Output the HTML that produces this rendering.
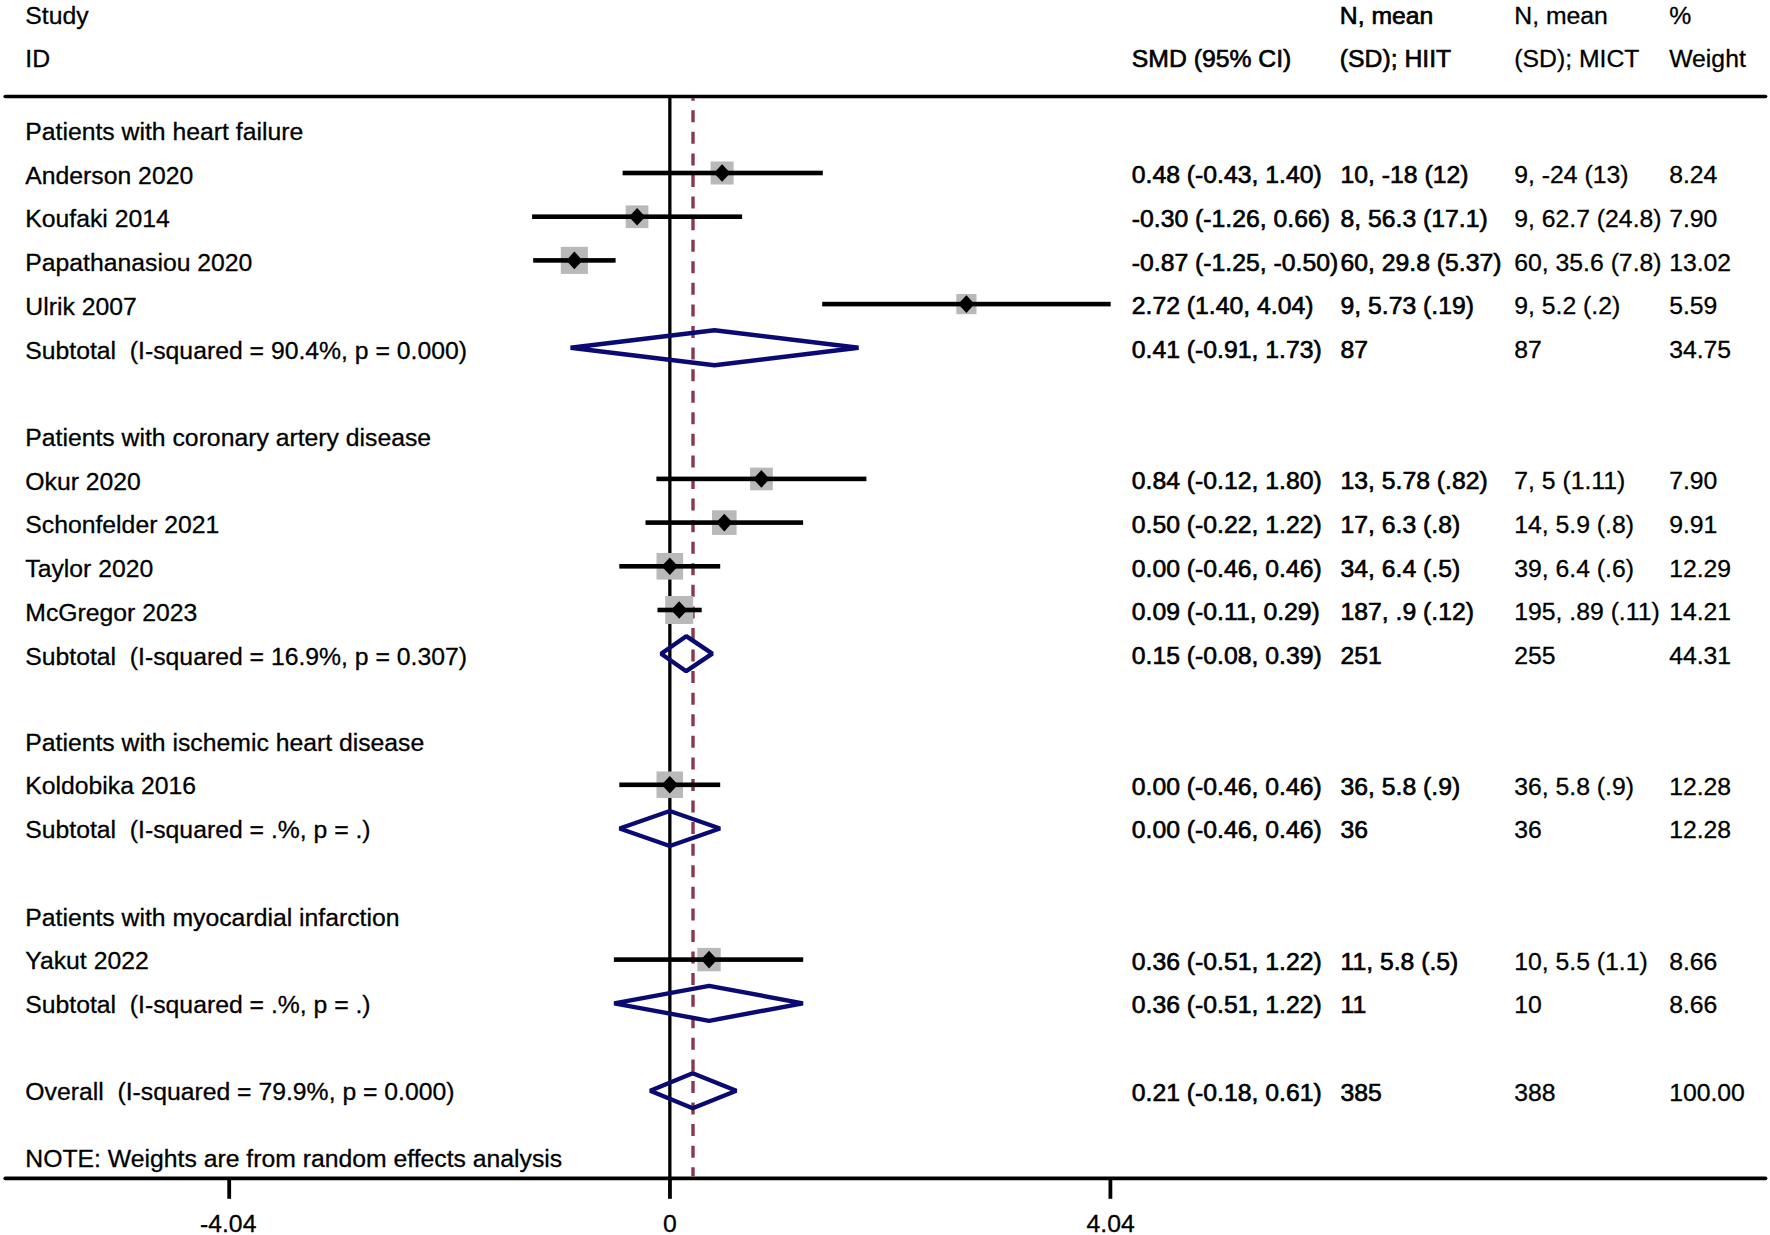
<!DOCTYPE html>
<html><head><meta charset="utf-8"><title>Forest plot</title>
<style>
html,body{margin:0;padding:0;background:#fff;}
svg{display:block;}
.t{font-family:"Liberation Sans",sans-serif;font-size:24.75px;fill:#000;white-space:pre;stroke:#000;stroke-width:0.3px;}
.b{stroke-width:0.65px;}
</style></head><body>
<svg width="1770" height="1235" viewBox="0 0 1770 1235">
<rect width="1770" height="1235" fill="#fff"/>
<line x1="5.2" y1="96.55" x2="1765.6" y2="96.55" stroke="#000" stroke-width="3.6" stroke-linecap="round"/>
<line x1="5.2" y1="1178.4" x2="1765.6" y2="1178.4" stroke="#000" stroke-width="3.6" stroke-linecap="round"/>
<rect x="668.2" y="96" width="3.3" height="1082" fill="#000"/>
<rect x="227.30" y="1178" width="3.8" height="20.8" fill="#000"/>
<rect x="668.05" y="1178" width="3.8" height="20.8" fill="#000"/>
<rect x="1108.50" y="1178" width="3.8" height="20.8" fill="#000"/>
<line x1="693.0" y1="98" x2="693.0" y2="1176.4" stroke="#8a384b" stroke-width="3.4" stroke-dasharray="12.0 9.57" stroke-dashoffset="9.27"/>
<rect x="710.6" y="161.5" width="23.0" height="23.0" fill="#b9b9b9"/>
<rect x="622.6" y="170.7" width="200.2" height="4.6" fill="#000"/>
<path d="M713.9 173.0L722.1 164.2L730.3 173.0L722.1 181.8Z" fill="#000"/>
<rect x="625.7" y="205.4" width="22.7" height="22.7" fill="#b9b9b9"/>
<rect x="532.1" y="214.4" width="210.0" height="4.6" fill="#000"/>
<path d="M628.9 216.7L637.1 207.9L645.3 216.7L637.1 225.5Z" fill="#000"/>
<rect x="560.8" y="246.8" width="27.1" height="27.1" fill="#b9b9b9"/>
<rect x="533.2" y="258.1" width="82.4" height="4.6" fill="#000"/>
<path d="M566.2 260.4L574.4 251.6L582.6 260.4L574.4 269.2Z" fill="#000"/>
<rect x="956.3" y="294.0" width="20.2" height="20.2" fill="#b9b9b9"/>
<rect x="822.2" y="301.8" width="288.5" height="4.6" fill="#000"/>
<path d="M958.2 304.1L966.4 295.3L974.6 304.1L966.4 312.9Z" fill="#000"/>
<path d="M570.6 347.8L714.5 330.3L858.5 347.8L714.5 365.3Z" fill="none" stroke="#0a0a73" stroke-width="4.4" stroke-linejoin="bevel"/>
<rect x="750.1" y="467.6" width="22.7" height="22.7" fill="#b9b9b9"/>
<rect x="656.4" y="476.6" width="210.0" height="4.6" fill="#000"/>
<path d="M753.2 478.9L761.4 470.1L769.6 478.9L761.4 487.7Z" fill="#000"/>
<rect x="712.0" y="510.3" width="24.6" height="24.6" fill="#b9b9b9"/>
<rect x="645.5" y="520.3" width="157.6" height="4.6" fill="#000"/>
<path d="M716.1 522.6L724.3 513.8L732.5 522.6L724.3 531.4Z" fill="#000"/>
<rect x="656.5" y="553.0" width="26.6" height="26.6" fill="#b9b9b9"/>
<rect x="619.3" y="564.0" width="100.9" height="4.6" fill="#000"/>
<path d="M661.6 566.3L669.8 557.5L678.0 566.3L669.8 575.1Z" fill="#000"/>
<rect x="665.2" y="596.0" width="28.0" height="28.0" fill="#b9b9b9"/>
<rect x="657.5" y="607.7" width="44.2" height="4.6" fill="#000"/>
<path d="M671.0 610.0L679.2 601.2L687.4 610.0L679.2 618.8Z" fill="#000"/>
<path d="M661.1 653.7L686.2 636.2L712.3 653.7L686.2 671.2Z" fill="none" stroke="#0a0a73" stroke-width="4.4" stroke-linejoin="bevel"/>
<rect x="656.5" y="771.5" width="26.5" height="26.5" fill="#b9b9b9"/>
<rect x="619.3" y="782.5" width="100.9" height="4.6" fill="#000"/>
<path d="M661.6 784.8L669.8 776.0L678.0 784.8L669.8 793.6Z" fill="#000"/>
<path d="M619.6 828.5L669.8 811.0L720.0 828.5L669.8 846.0Z" fill="none" stroke="#0a0a73" stroke-width="4.4" stroke-linejoin="bevel"/>
<rect x="697.3" y="947.9" width="23.4" height="23.4" fill="#b9b9b9"/>
<rect x="613.9" y="957.3" width="189.3" height="4.6" fill="#000"/>
<path d="M700.9 959.6L709.1 950.8L717.3 959.6L709.1 968.4Z" fill="#000"/>
<path d="M614.2 1003.3L709.1 985.8L802.9 1003.3L709.1 1020.8Z" fill="none" stroke="#0a0a73" stroke-width="4.4" stroke-linejoin="bevel"/>
<path d="M650.2 1090.7L692.7 1073.2L736.3 1090.7L692.7 1108.2Z" fill="none" stroke="#0a0a73" stroke-width="4.4" stroke-linejoin="bevel"/>
<text class="t" xml:space="preserve" x="25.3" y="23.5">Study</text>
<text class="t" xml:space="preserve" x="25.3" y="67.1">ID</text>
<text class="t b" xml:space="preserve" x="1131.8" y="67.1">SMD (95% CI)</text>
<text class="t b" xml:space="preserve" x="1339.8" y="23.5">N, mean</text>
<text class="t b" xml:space="preserve" x="1339.8" y="67.1">(SD); HIIT</text>
<text class="t" xml:space="preserve" x="1514.3" y="23.5">N, mean</text>
<text class="t" xml:space="preserve" x="1514.3" y="67.1">(SD); MICT</text>
<text class="t" xml:space="preserve" x="1669.2" y="23.5">%</text>
<text class="t" xml:space="preserve" x="1669.2" y="67.1">Weight</text>
<text class="t" xml:space="preserve" x="25.3" y="140.1">Patients with heart failure</text>
<text class="t" xml:space="preserve" x="25.3" y="183.8">Anderson 2020</text>
<text class="t b" xml:space="preserve" x="1131.8" y="183.2">0.48 (-0.43, 1.40)</text>
<text class="t b" xml:space="preserve" x="1340.5" y="183.2">10, -18 (12)</text>
<text class="t" xml:space="preserve" x="1514.3" y="183.2">9, -24 (13)</text>
<text class="t" xml:space="preserve" x="1669.2" y="183.2">8.24</text>
<text class="t" xml:space="preserve" x="25.3" y="227.4">Koufaki 2014</text>
<text class="t b" xml:space="preserve" x="1131.8" y="226.9">-0.30 (-1.26, 0.66)</text>
<text class="t b" xml:space="preserve" x="1340.5" y="226.9">8, 56.3 (17.1)</text>
<text class="t" xml:space="preserve" x="1514.3" y="226.9">9, 62.7 (24.8)</text>
<text class="t" xml:space="preserve" x="1669.2" y="226.9">7.90</text>
<text class="t" xml:space="preserve" x="25.3" y="271.1">Papathanasiou 2020</text>
<text class="t b" xml:space="preserve" x="1131.8" y="270.6">-0.87 (-1.25, -0.50)</text>
<text class="t b" xml:space="preserve" x="1340.5" y="270.6">60, 29.8 (5.37)</text>
<text class="t" xml:space="preserve" x="1514.3" y="270.6">60, 35.6 (7.8)</text>
<text class="t" xml:space="preserve" x="1669.2" y="270.6">13.02</text>
<text class="t" xml:space="preserve" x="25.3" y="314.9">Ulrik 2007</text>
<text class="t b" xml:space="preserve" x="1131.8" y="314.4">2.72 (1.40, 4.04)</text>
<text class="t b" xml:space="preserve" x="1340.5" y="314.4">9, 5.73 (.19)</text>
<text class="t" xml:space="preserve" x="1514.3" y="314.4">9, 5.2 (.2)</text>
<text class="t" xml:space="preserve" x="1669.2" y="314.4">5.59</text>
<text class="t" xml:space="preserve" x="25.3" y="358.6">Subtotal  (I-squared = 90.4%, p = 0.000)</text>
<text class="t b" xml:space="preserve" x="1131.8" y="358.1">0.41 (-0.91, 1.73)</text>
<text class="t b" xml:space="preserve" x="1340.5" y="358.1">87</text>
<text class="t" xml:space="preserve" x="1514.3" y="358.1">87</text>
<text class="t" xml:space="preserve" x="1669.2" y="358.1">34.75</text>
<text class="t" xml:space="preserve" x="25.3" y="446.0">Patients with coronary artery disease</text>
<text class="t" xml:space="preserve" x="25.3" y="489.7">Okur 2020</text>
<text class="t b" xml:space="preserve" x="1131.8" y="489.2">0.84 (-0.12, 1.80)</text>
<text class="t b" xml:space="preserve" x="1340.5" y="489.2">13, 5.78 (.82)</text>
<text class="t" xml:space="preserve" x="1514.3" y="489.2">7, 5 (1.11)</text>
<text class="t" xml:space="preserve" x="1669.2" y="489.2">7.90</text>
<text class="t" xml:space="preserve" x="25.3" y="533.4">Schonfelder 2021</text>
<text class="t b" xml:space="preserve" x="1131.8" y="532.9">0.50 (-0.22, 1.22)</text>
<text class="t b" xml:space="preserve" x="1340.5" y="532.9">17, 6.3 (.8)</text>
<text class="t" xml:space="preserve" x="1514.3" y="532.9">14, 5.9 (.8)</text>
<text class="t" xml:space="preserve" x="1669.2" y="532.9">9.91</text>
<text class="t" xml:space="preserve" x="25.3" y="577.0">Taylor 2020</text>
<text class="t b" xml:space="preserve" x="1131.8" y="576.5">0.00 (-0.46, 0.46)</text>
<text class="t b" xml:space="preserve" x="1340.5" y="576.5">34, 6.4 (.5)</text>
<text class="t" xml:space="preserve" x="1514.3" y="576.5">39, 6.4 (.6)</text>
<text class="t" xml:space="preserve" x="1669.2" y="576.5">12.29</text>
<text class="t" xml:space="preserve" x="25.3" y="620.8">McGregor 2023</text>
<text class="t b" xml:space="preserve" x="1131.8" y="620.2">0.09 (-0.11, 0.29)</text>
<text class="t b" xml:space="preserve" x="1340.5" y="620.2">187, .9 (.12)</text>
<text class="t" xml:space="preserve" x="1514.3" y="620.2">195, .89 (.11)</text>
<text class="t" xml:space="preserve" x="1669.2" y="620.2">14.21</text>
<text class="t" xml:space="preserve" x="25.3" y="664.5">Subtotal  (I-squared = 16.9%, p = 0.307)</text>
<text class="t b" xml:space="preserve" x="1131.8" y="664.0">0.15 (-0.08, 0.39)</text>
<text class="t b" xml:space="preserve" x="1340.5" y="664.0">251</text>
<text class="t" xml:space="preserve" x="1514.3" y="664.0">255</text>
<text class="t" xml:space="preserve" x="1669.2" y="664.0">44.31</text>
<text class="t" xml:space="preserve" x="25.3" y="750.7">Patients with ischemic heart disease</text>
<text class="t" xml:space="preserve" x="25.3" y="794.4">Koldobika 2016</text>
<text class="t b" xml:space="preserve" x="1131.8" y="794.7">0.00 (-0.46, 0.46)</text>
<text class="t b" xml:space="preserve" x="1340.5" y="794.7">36, 5.8 (.9)</text>
<text class="t" xml:space="preserve" x="1514.3" y="794.7">36, 5.8 (.9)</text>
<text class="t" xml:space="preserve" x="1669.2" y="794.7">12.28</text>
<text class="t" xml:space="preserve" x="25.3" y="838.1">Subtotal  (I-squared = .%, p = .)</text>
<text class="t b" xml:space="preserve" x="1131.8" y="838.4">0.00 (-0.46, 0.46)</text>
<text class="t b" xml:space="preserve" x="1340.5" y="838.4">36</text>
<text class="t" xml:space="preserve" x="1514.3" y="838.4">36</text>
<text class="t" xml:space="preserve" x="1669.2" y="838.4">12.28</text>
<text class="t" xml:space="preserve" x="25.3" y="925.5">Patients with myocardial infarction</text>
<text class="t" xml:space="preserve" x="25.3" y="969.2">Yakut 2022</text>
<text class="t b" xml:space="preserve" x="1131.8" y="969.5">0.36 (-0.51, 1.22)</text>
<text class="t b" xml:space="preserve" x="1340.5" y="969.5">11, 5.8 (.5)</text>
<text class="t" xml:space="preserve" x="1514.3" y="969.5">10, 5.5 (1.1)</text>
<text class="t" xml:space="preserve" x="1669.2" y="969.5">8.66</text>
<text class="t" xml:space="preserve" x="25.3" y="1012.9">Subtotal  (I-squared = .%, p = .)</text>
<text class="t b" xml:space="preserve" x="1131.8" y="1013.2">0.36 (-0.51, 1.22)</text>
<text class="t b" xml:space="preserve" x="1340.5" y="1013.2">11</text>
<text class="t" xml:space="preserve" x="1514.3" y="1013.2">10</text>
<text class="t" xml:space="preserve" x="1669.2" y="1013.2">8.66</text>
<text class="t" xml:space="preserve" x="25.3" y="1100.3">Overall  (I-squared = 79.9%, p = 0.000)</text>
<text class="t b" xml:space="preserve" x="1131.8" y="1100.6">0.21 (-0.18, 0.61)</text>
<text class="t b" xml:space="preserve" x="1340.5" y="1100.6">385</text>
<text class="t" xml:space="preserve" x="1514.3" y="1100.6">388</text>
<text class="t" xml:space="preserve" x="1669.2" y="1100.6">100.00</text>
<text class="t" xml:space="preserve" x="25.3" y="1166.6">NOTE: Weights are from random effects analysis</text>
<text class="t" xml:space="preserve" x="228.2" y="1231.8" text-anchor="middle">-4.04</text>
<text class="t" xml:space="preserve" x="670.0" y="1231.8" text-anchor="middle">0</text>
<text class="t" xml:space="preserve" x="1110.6" y="1231.8" text-anchor="middle">4.04</text>
</svg>
</body></html>
